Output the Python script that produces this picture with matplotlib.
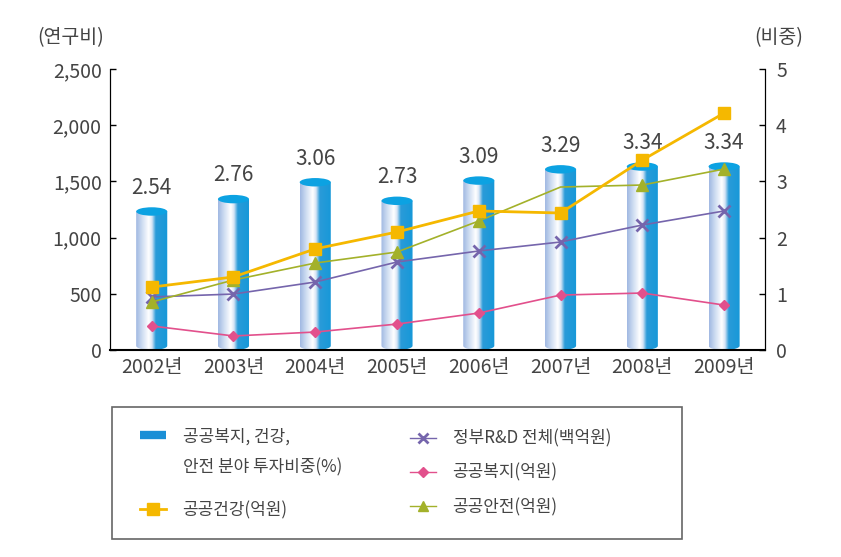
import matplotlib.pyplot as plt
import numpy as np
from matplotlib.colors import LinearSegmentedColormap
from matplotlib.lines import Line2D
from matplotlib.patches import Ellipse, PathPatch, Rectangle
from matplotlib.path import Path

plt.rcParams["font.family"] = ["Noto Sans CJK KR", "DejaVu Sans"]

# Data
years = ["2002년", "2003년", "2004년", "2005년", "2006년", "2007년", "2008년", "2009년"]
share = [2.54, 2.76, 3.06, 2.73, 3.09, 3.29, 3.34, 3.34]          # 비중 (right axis)
health = [560, 650, 900, 1050, 1237, 1219, 1690, 2108]           # 공공건강(억원)
safety = [427, 623, 774, 872, 1148, 1450, 1468, 1610]            # 공공안전(억원)
gov_rd = [472, 498, 605, 783, 881, 961, 1112, 1237]              # 정부R&D 전체(백억원)
welfare = [214, 125, 160, 231, 329, 489, 507, 400]               # 공공복지(억원)

TEXT = "#444444"
BLUE = "#1698d8"
ORANGE = "#f5b800"
OLIVE = "#a3b12a"
PURPLE = "#7565ac"
PINK = "#e2508c"

fig = plt.figure(figsize=(8.41, 5.57), dpi=100)
ax = fig.add_axes([0.1308, 0.3716, 0.7788, 0.5045])
ax2 = ax.twinx()
ax.set_zorder(ax2.get_zorder() + 1)
ax.patch.set_visible(False)

x = np.arange(len(years))
width = 0.38

# cylinder-like bars on the right axis
cmap = LinearSegmentedColormap.from_list(
    "cyl",
    [(0.0, "#a0b8e2"), (0.2, "#d0def2"), (0.4, "#ffffff"), (0.5, "#d8e5f5"),
     (0.62, "#2a9bd9"), (1.0, BLUE)],
)
grad = np.linspace(0, 1, 200).reshape(1, -1)
ell_h = 0.15
bars = ax2.bar(x, share, width=width, color="none", edgecolor="none")
for bar, val in zip(bars, share):
    x0 = bar.get_x()
    w = bar.get_width()
    h = bar.get_height()
    cx = x0 + w / 2
    top = h - ell_h / 2  # top ellipse's upper edge sits at the value
    th = np.linspace(np.pi, 2 * np.pi, 40)
    arc = np.column_stack([cx + w / 2 * np.cos(th), ell_h / 2 + ell_h / 2 * np.sin(th)])
    verts = np.vstack([[x0, top], arc, [x0 + w, top], [x0, top]])
    clip = PathPatch(Path(verts), transform=ax2.transData, facecolor="none", edgecolor="none")
    ax2.add_patch(clip)
    im = ax2.imshow(grad, cmap=cmap, aspect="auto", extent=[x0, x0 + w, 0, top],
                    zorder=2, interpolation="bilinear")
    im.set_clip_path(clip)
    ax2.add_patch(Ellipse((cx, top), w, ell_h, facecolor="#0ca2e2", edgecolor="none", zorder=3))
    ax2.text(cx, h + 0.15, f"{val:.2f}", ha="center", va="bottom", fontsize=15,
             color=TEXT, fontweight="light")

# lines on the left axis
ax.plot(x, welfare, color=PINK, lw=1.2, marker="D", ms=5, label="공공복지(억원)")
ax.plot(x, gov_rd, color=PURPLE, lw=1.2, marker="x", ms=8, mew=2, label="정부R&D 전체(백억원)")
ax.plot(x, safety, color=OLIVE, lw=1.2, marker="^", ms=8, markevery=[0, 1, 2, 3, 4, 6, 7],
        label="공공안전(억원)")
ax.plot(x, health, color=ORANGE, lw=2, marker="s", ms=9, label="공공건강(억원)")

ax.set_xlim(-0.51, 7.5)
ax.set_ylim(0, 2500)
ax2.set_ylim(0, 5)
ax.set_yticks([0, 500, 1000, 1500, 2000, 2500])
ax.set_yticklabels(["0", "500", "1,000", "1,500", "2,000", "2,500"])
ax2.set_yticks([0, 1, 2, 3, 4, 5])
ax.set_xticks(x)
ax.set_xticklabels(years)

for a in (ax, ax2):
    a.spines["top"].set_visible(False)
    a.tick_params(direction="in", length=4, width=1, labelsize=14, labelcolor=TEXT, pad=6)
ax.tick_params(axis="x", length=0, pad=5)
ax2.tick_params(axis="y", pad=8)
ax.spines["bottom"].set_linewidth(1.5)
ax2.spines["bottom"].set_visible(False)

fig.text(37 / 841, 1 - 38 / 557, "(연구비)", fontsize=14, color=TEXT, va="center", ha="left")
fig.text(803 / 841, 1 - 38 / 557, "(비중)", fontsize=14, color=TEXT, va="center", ha="right")

# legend box
fig.patches.append(Rectangle((112 / 841, 1 - 539 / 557), 570 / 841, 132 / 557,
                             transform=fig.transFigure, facecolor="white",
                             edgecolor="#666666", lw=1.2))

bar_handle = Line2D([0], [0], color="#1a8fd6", lw=6, solid_capstyle="butt")
health_handle = Line2D([0], [0], color=ORANGE, lw=2, marker="s", ms=9)
leg1 = fig.legend([bar_handle, health_handle],
                  ["공공복지, 건강,", "공공건강(억원)"],
                  loc="upper left", bbox_to_anchor=(125 / 841, 1 - 412 / 557),
                  frameon=False, fontsize=12.2, handlelength=1.5, handletextpad=1.0,
                  labelspacing=3.3, labelcolor=TEXT)
rd_handle = Line2D([0], [0], color=PURPLE, lw=1, marker="x", ms=7, mew=2)
wf_handle = Line2D([0], [0], color=PINK, lw=1, marker="D", ms=5)
sf_handle = Line2D([0], [0], color=OLIVE, lw=1, marker="^", ms=7)
fig.legend([rd_handle, wf_handle, sf_handle],
           ["정부R&D 전체(백억원)", "공공복지(억원)", "공공안전(억원)"],
           loc="upper left", bbox_to_anchor=(395 / 841, 1 - 414 / 557),
           frameon=False, fontsize=12.2, handlelength=1.5, handletextpad=1.0,
           labelspacing=0.95, labelcolor=TEXT)

# second line of the first legend label, aligned under the first line
fig.canvas.draw()
bb = leg1.get_texts()[0].get_window_extent(fig.canvas.get_renderer())
fig.text(bb.x0 / fig.bbox.width, (bb.y0 + bb.y1) / 2 / fig.bbox.height - 31 / 557,
         "안전 분야 투자비중(%)", fontsize=12.2, color=TEXT, ha="left", va="center")

fig.savefig("out.png", dpi=100)
